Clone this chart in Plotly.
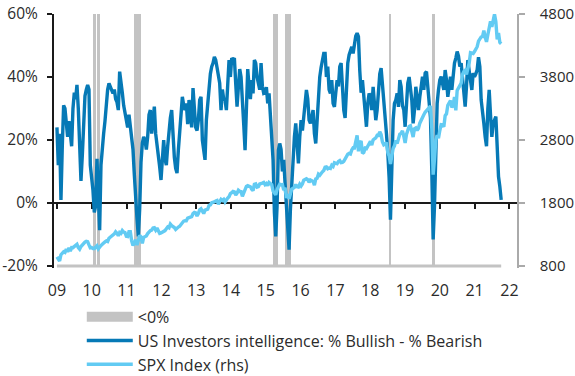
import pandas as pd
import plotly.graph_objects as go

# ---------------- data (biweekly observations, first one on start_date) ----------------
start_date = "2009-06-12"

# US Investors Intelligence: % Bullish - % Bearish
spread_2009 = [24, 12, 22, 1, 18, 31, 30, 24, 21, 26, 22, 18, 30, 35, 33]
spread_2010 = [37.5, 30, 17, 7, 15, 28, 34, 36, 37.5, 36, 12, 8, 4, -3, -1, 14, -2, -8.6,
               12, 18, 22, 26, 33, 36, 38, 37]
spread_2011 = [36, 34.8, 36, 33, 32, 29.5, 41.7, 39, 35, 31, 29, 26, 24, 28, 24, 21, 17, 9,
               -1, -5, -10.6, -2, 13, 19, 21, 20]
spread_2012 = [17, 21, 28, 29.5, 22, 27, 30.6, 22, 19, 16, 11.5, 7.3, 14.8, 20, 14, 12, 18,
               23.5, 27, 29.5, 21, 14.5, 11, 9.5, 16.8, 22]
spread_2013 = [29.5, 33.7, 31, 29.5, 31.6, 25, 32.7, 28, 24, 36.5, 29.5, 24, 23, 26.3, 32.7,
               33.7, 20, 16.8, 13.7, 26.3, 31.6, 37, 41, 43.3, 44.4, 46.4]
spread_2014 = [45.4, 43, 40, 38, 29.5, 36, 33, 32.7, 29.5, 40, 45.4, 40, 46, 45.4, 46, 38,
               30.6, 36.8, 42.5, 40, 33.7, 25, 16.8, 35, 42.5, 37]
spread_2015 = [33, 39, 34.8, 45.4, 44.4, 40, 38, 36, 44.4, 37, 34.8, 35, 36.8, 31.6, 34.8,
               27, 22, 13.7, -3, -10.6, -1, 16.8, 18.9, 17, 10, 13.7]
spread_2016 = [6.2, -1, -7.4, -14.8, -2, 6.2, 16, 21, 25.3, 18, 12.6, 21, 26.3, 23, 27, 29.5,
               35.9, 33, 26.3, 25.3, 27, 29.5, 22, 18.9, 26, 33.7]
spread_2017 = [40, 43, 45, 47.5, 47.5, 40, 43.3, 36, 34.8, 39, 31.6, 30.5, 35, 39, 37, 43.3,
               44.4, 33.7, 29.5, 27, 35.9, 44.4, 47, 48.6, 49.6, 47.5]
spread_2018 = [50.2, 53, 53.9, 52.8, 42, 35, 39, 34.8, 29.5, 24.2, 31.6, 34.8, 33.7, 29.5,
               36.9, 31.6, 26.3, 29.5, 35.9, 41, 42.8, 38, 33.7, 26.3, 22, 16]
spread_2019 = [8, -5.3, 10.5, 26.3, 31.6, 32.7, 34.8, 30.5, 39, 36.9, 31, 29.5, 24.2, 33.7,
               38, 40, 36, 32.7, 25.3, 29.5, 36.9, 33, 29.5, 33.7, 38, 40.1, 35.9]
spread_2020 = [41.2, 41.7, 36, 33, 27, 10, -11.6, -1, 20, 31.6, 35.9, 39.1, 40.1, 37, 35.9,
               42.2, 39.1, 33.7, 37, 40.1, 35.9, 41.2, 44.4, 46, 48.1, 46.6, 43.3, 44.4]
spread_2021 = [40, 37, 30.6, 37, 45.4, 42, 39.1, 35.9, 41.2, 40.1, 41, 42.3, 46.3, 43.3, 32.7,
               29.5, 25.3, 21, 18, 30, 35.9, 28, 21, 25.3, 26.5, 27.4, 18, 8.4, 5.2, 1]

# S&P 500 index level (rhs)
spx_2009 = [946, 918, 879, 979, 1010, 1026, 1016, 1068, 1025, 1087, 1036, 1093, 1091, 1106, 1126]
spx_2010 = [1145, 1091, 1066, 1109, 1138, 1160, 1179, 1192, 1187, 1136, 1089, 1092, 1076,
            1078, 1102, 1122, 1071, 1105, 1125, 1146, 1176, 1183, 1199, 1189, 1240, 1257]
spx_2011 = [1271, 1283, 1310, 1343, 1321, 1279, 1332, 1319, 1363, 1338, 1331, 1271, 1268,
            1344, 1345, 1199, 1123, 1174, 1216, 1131, 1224, 1285, 1263, 1159, 1255, 1265]
spx_2012 = [1278, 1315, 1345, 1361, 1370, 1404, 1408, 1370, 1403, 1353, 1317, 1325, 1335,
            1354, 1362, 1391, 1418, 1406, 1465, 1441, 1428, 1411, 1380, 1409, 1418, 1430]
spx_2013 = [1466, 1486, 1513, 1520, 1518, 1561, 1569, 1588, 1582, 1633, 1650, 1643, 1593,
            1632, 1692, 1709, 1655, 1633, 1688, 1692, 1703, 1760, 1771, 1804, 1805, 1818]
spx_2014 = [1831, 1839, 1783, 1838, 1859, 1841, 1858, 1815, 1863, 1878, 1900, 1949, 1963,
            1985, 1978, 1925, 1955, 2003, 1985, 1982, 1906, 1964, 2032, 2063, 2075, 2070]
spx_2015 = [2058, 2019, 1995, 2096, 2104, 2053, 2061, 2102, 2117, 2116, 2126, 2092, 2110,
            2076, 2126, 2104, 2091, 1989, 1961, 1931, 2014, 2075, 2099, 2089, 2091, 2005]
spx_2016 = [2044, 1880, 1940, 1865, 1948, 2022, 2035, 2048, 2092, 2057, 2052, 2099, 2071,
            2103, 2162, 2174, 2184, 2169, 2128, 2165, 2153, 2141, 2085, 2182, 2192, 2258]
spx_2017 = [2239, 2275, 2295, 2316, 2367, 2373, 2344, 2355, 2349, 2399, 2382, 2439, 2433,
            2423, 2459, 2472, 2441, 2444, 2461, 2502, 2549, 2575, 2588, 2579, 2642, 2675]
spx_2018 = [2674, 2786, 2873, 2620, 2747, 2786, 2588, 2604, 2670, 2663, 2713, 2735, 2780,
            2718, 2801, 2819, 2833, 2875, 2872, 2930, 2886, 2768, 2723, 2736, 2760, 2600]
spx_2019 = [2550, 2420, 2596, 2665, 2708, 2793, 2743, 2801, 2893, 2905, 2946, 2860, 2752,
            2887, 2942, 3014, 3026, 2919, 2847, 2979, 2992, 2952, 2986, 3067, 3120, 3141, 3200]
spx_2020 = [3240, 3265, 3295, 3328, 3338, 2972, 2250, 2489, 2800, 2875, 2830, 2950, 3044,
            3041, 3009, 3185, 3216, 3351, 3397, 3427, 3319, 3348, 3483, 3270, 3585, 3638,
            3663, 3703]
spx_2021 = [3841, 3887, 3907, 3842, 3913, 4020, 4185, 4181, 4174, 4204, 4247, 4281, 4370,
            4411, 4437, 4442, 4535, 4433, 4357, 4471, 4605, 4683, 4595, 4712, 4796, 4677,
            4398, 4500, 4349, 4329]

year_labels = ["09", "10", "11", "12", "13", "14", "15", "16", "17", "18", "19", "20", "21", "22"]
label_dates = ["2009-06-12", "2010-06-12", "2011-06-12", "2012-06-12", "2013-06-12",
               "2014-06-12", "2015-06-12", "2016-06-12", "2017-06-12", "2018-06-12",
               "2019-06-12", "2020-06-12", "2021-06-12", "2022-06-12"]
left_ticks = [-20, 0, 20, 40, 60]
right_ticks = [800, 1800, 2800, 3800, 4800]

names = ["<0%", "US Investors intelligence: % Bullish - % Bearish", "SPX Index (rhs)"]

# ---------------- assemble ----------------
spread = (spread_2009 + spread_2010 + spread_2011 + spread_2012 + spread_2013 + spread_2014 +
          spread_2015 + spread_2016 + spread_2017 + spread_2018 + spread_2019 + spread_2020 +
          spread_2021)
spx = (spx_2009 + spx_2010 + spx_2011 + spx_2012 + spx_2013 + spx_2014 + spx_2015 +
       spx_2016 + spx_2017 + spx_2018 + spx_2019 + spx_2020 + spx_2021)
dates = pd.date_range(start_date, periods=len(spread), freq="14D")

Y_MIN, Y_MAX = -20 - 2 / 3.15, 60
R_MIN = 800 + (Y_MIN + 20) * 50
R_MAX = 4800
X_RANGE = ["2009-05-12", "2022-08-31"]

neg_dates = [d for d, v in zip(dates, spread) if v < 0]
STEP_MS = 14 * 24 * 3600 * 1000

DARK = "#0679b6"
LIGHT = "#62cbf3"
GREY = "#c3c3c3"
FONT = "Open Sans"
TXT = "#2b2b2b"

fig = go.Figure()
fig.add_trace(go.Bar(x=neg_dates, y=[Y_MAX + 20] * len(neg_dates), base=-20,
                     width=STEP_MS, marker=dict(color=GREY, line=dict(width=0)),
                     showlegend=False, hoverinfo="skip"))
fig.add_trace(go.Scatter(x=[dates[0], dates[-1]], y=[-20, -20], mode="lines",
                         line=dict(color=GREY, width=3), showlegend=False, hoverinfo="skip"))
fig.add_trace(go.Scatter(x=[None], y=[None], mode="lines", name=names[0],
                         line=dict(color=GREY, width=12)))
fig.add_trace(go.Scatter(x=dates, y=spread, mode="lines", name=names[1],
                         line=dict(color=DARK, width=3.4)))
fig.add_trace(go.Scatter(x=dates, y=spx, mode="lines", name=names[2], yaxis="y2",
                         line=dict(color=LIGHT, width=3.4)))
fig.add_trace(go.Scatter(x=[None], y=[None], xaxis="x2", yaxis="y", showlegend=False,
                         hoverinfo="skip"))

fig.update_layout(
    width=575, height=376,
    margin=dict(l=54, r=58, t=14, b=108, autoexpand=False),
    plot_bgcolor="white", paper_bgcolor="white",
    font=dict(family=FONT, size=15, color=TXT),
    bargap=0,
    xaxis=dict(type="date", range=X_RANGE, tickvals=label_dates, ticktext=year_labels,
               ticks="", showline=False, showgrid=False, zeroline=False,
               ticklabelstandoff=11, tickfont=dict(size=16, color=TXT)),
    xaxis2=dict(type="date", range=X_RANGE, overlaying="x", anchor="free",
                position=(0 - Y_MIN) / (Y_MAX - Y_MIN), side="bottom",
                tickvals=label_dates, showticklabels=False, ticks="outside",
                ticklen=5, tickwidth=2, tickcolor="#1a1a1a", showline=True,
                linecolor="#1a1a1a", linewidth=2, showgrid=False, zeroline=False,
                layer="below traces"),
    yaxis=dict(range=[Y_MIN, Y_MAX], tickvals=left_ticks,
               ticktext=[f"{t}%" for t in left_ticks], ticks="outside", ticklen=5,
               tickwidth=2, tickcolor="#1a1a1a", showline=True, linecolor="#1a1a1a",
               linewidth=2, showgrid=False, zeroline=False, ticklabelstandoff=6,
               tickfont=dict(size=15.5, color=TXT)),
    yaxis2=dict(range=[R_MIN, R_MAX], tickvals=right_ticks, overlaying="y", side="right",
                ticks="outside", ticklen=6, tickwidth=1.5, tickcolor="#aaaaaa",
                showline=True, linecolor="#aaaaaa", linewidth=1.5, showgrid=False,
                zeroline=False, ticklabelstandoff=12,
                tickfont=dict(size=15, color=TXT)),
    legend=dict(orientation="v", x=0.06, xanchor="left", y=-0.125, yanchor="top",
                font=dict(family=FONT, size=16, color=TXT), traceorder="normal",
                bgcolor="rgba(0,0,0,0)", itemwidth=46, tracegroupgap=0),
    showlegend=True,
)

fig.write_html("out.html", config={"displayModeBar": False},
               post_script="document.body.style.margin='0';"
                           "document.body.style.overflow='hidden';")
